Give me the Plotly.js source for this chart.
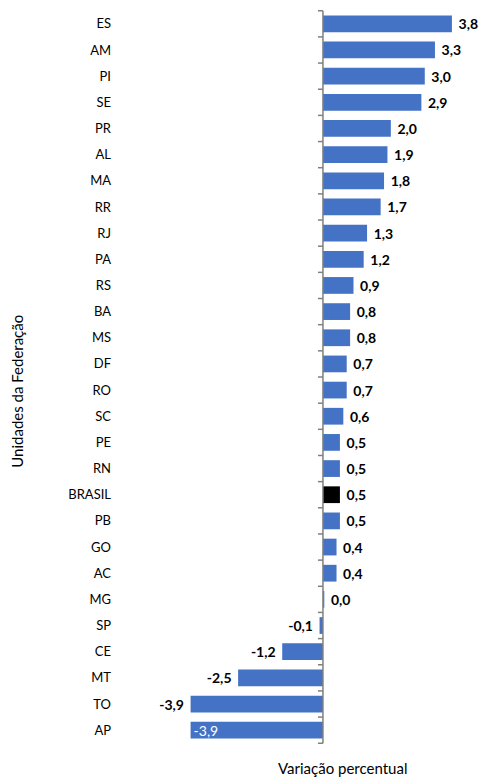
<!DOCTYPE html>
<html><head><meta charset="utf-8">
<script src="https://cdn.plot.ly/plotly-3.0.1.min.js"></script>
<style>html,body{margin:0;padding:0;background:#fff}#chart{width:483px;height:778px}</style>
</head><body><div id="chart"></div>
<script>
const categories = ["ES","AM","PI","SE","PR","AL","MA","RR","RJ","PA","RS","BA","MS","DF","RO","SC","PE","RN","BRASIL","PB","GO","AC","MG","SP","CE","MT","TO","AP"];
const values = [3.8,3.3,3.0,2.9,2.0,1.9,1.8,1.7,1.3,1.2,0.9,0.8,0.8,0.7,0.7,0.6,0.5,0.5,0.5,0.5,0.4,0.4,0.04,-0.1,-1.2,-2.5,-3.9,-3.9];
const highlight = "BRASIL";
const insideLabel = "AP";
const xTitle = "Variação percentual";
const yTitle = "Unidades da Federação";

const n = categories.length;
const fmt = v => v.toFixed(1).replace('.', ',');
const NB = '\u00a0';
const texts = categories.map((c,i) => {
  const s = fmt(values[i]);
  if (c === insideLabel) return s;
  return values[i] < 0 ? '<b>' + s + '</b>' + NB : NB + '<b>' + s + '</b>';
});
const colors = categories.map(c => c === highlight ? '#000000' : '#4472C4');
const positions = categories.map(c => c === insideLabel ? 'inside' : 'outside');

const shapes = [{type:'line', xref:'x', yref:'y', x0:0, x1:0, y0:-0.5, y1:n-0.5, line:{color:'#808080', width:1.5}}];
for (let i = 0; i <= n; i++) {
  shapes.push({type:'line', xref:'x', yref:'y', xsizemode:'pixel', xanchor:0, x0:-5, x1:0, y0:i-0.5, y1:i-0.5, line:{color:'#808080', width:1.5}});
}

const FONT = 'Lato, Open Sans, sans-serif';
const trace = {
  type:'bar', orientation:'h', y:categories, x:values,
  marker:{color:colors}, text:texts, textposition:positions,
  insidetextanchor:'end', cliponaxis:false, constraintext:'none',
  outsidetextfont:{family:FONT, size:14, color:'#000000'},
  insidetextfont:{family:FONT, size:14, color:'#ffffff'},
  hoverinfo:'none'
};

const layout = {
  width:483, height:778,
  margin:{l:120, r:8, t:10, b:34},
  paper_bgcolor:'#ffffff', plot_bgcolor:'#ffffff',
  bargap:0.36, showlegend:false,
  font:{family:FONT, color:'#000000'},
  xaxis:{range:[-5.98,4.48], visible:false, fixedrange:true},
  yaxis:{autorange:'reversed', showline:false, ticks:'', showgrid:false, zeroline:false,
         tickfont:{size:13, color:'#000000'}, ticklabelstandoff:8, fixedrange:true},
  shapes:shapes,
  annotations:[
    {xref:'paper', yref:'paper', x:0.628, y:-0.0327, xanchor:'center', yanchor:'middle', showarrow:false,
     text:xTitle, font:{size:15, color:'#000000'}},
    {xref:'paper', yref:'paper', x:-0.29, y:0.48, xanchor:'center', yanchor:'middle', showarrow:false,
     textangle:-90, text:yTitle, font:{size:15, color:'#000000'}}
  ]
};
Plotly.newPlot('chart', [trace], layout, {displayModeBar:false, staticPlot:true});
</script></body></html>
